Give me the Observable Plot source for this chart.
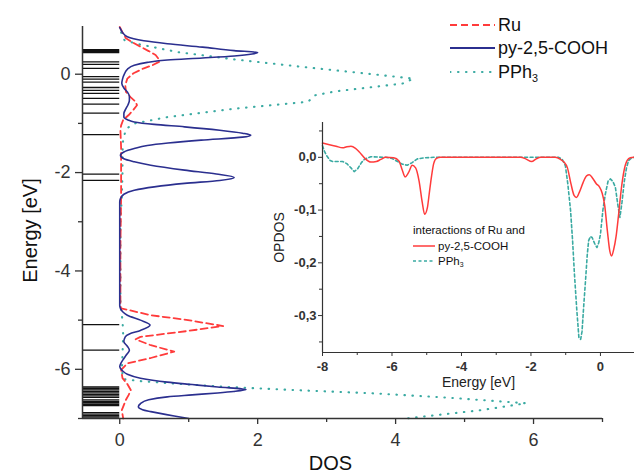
<!DOCTYPE html>
<html><head><meta charset="utf-8">
<script src="https://cdn.jsdelivr.net/npm/d3@7"></script>
<script src="https://cdn.jsdelivr.net/npm/@observablehq/plot@0.6"></script>
<style>
body{margin:0;background:#fff;}
#wrap{position:relative;width:634px;height:474px;font-family:"Liberation Sans",Arial,sans-serif;color:#111;overflow:hidden;}
#wrap > svg{position:absolute;left:0;top:0;}
.row{position:absolute;display:flex;align-items:center;white-space:nowrap;}
.row svg{display:block;}
.big{font-size:18px;line-height:22px;}
.small{font-size:11.5px;line-height:14px;}
sub{font-size:0.6em;vertical-align:-0.35em;line-height:0;}
</style></head><body><div id="wrap"></div>
<script>
// ---------- main DOS panel: [energy (eV), DOS] ----------
const pyDos = [
  [0.95,0.0],[0.92,0.01],[0.85,0.04],[0.76,0.11],[0.68,0.35],[0.62,0.69],[0.55,1.2],[0.48,1.66],[0.44,2.0],[0.41,1.92],
  [0.37,1.66],[0.33,1.2],[0.29,0.69],[0.24,0.4],[0.18,0.21],[0.10,0.11],[0.01,0.07],[-0.10,0.04],[-0.19,0.03],[-0.28,0.06],
  [-0.36,0.11],[-0.45,0.14],[-0.53,0.14],[-0.62,0.12],[-0.70,0.09],[-0.80,0.06],[-0.87,0.06],[-0.93,0.12],[-0.97,0.21],
  [-1.02,0.5],[-1.07,0.94],[-1.14,1.45],[-1.20,1.78],[-1.24,1.90],[-1.28,1.78],[-1.34,1.18],[-1.40,0.7],[-1.45,0.4],
  [-1.51,0.21],[-1.58,0.06],[-1.65,0.01],[-1.72,0.06],[-1.78,0.21],[-1.85,0.45],[-1.95,0.94],[-2.03,1.4],[-2.10,1.66],
  [-2.16,1.45],[-2.22,0.94],[-2.29,0.5],[-2.36,0.21],[-2.44,0.06],[-2.53,0.01],[-2.6,0],[-4.7,0],[-4.76,0.01],[-4.84,0.05],
  [-4.90,0.11],[-5.00,0.30],[-5.10,0.44],[-5.21,0.30],[-5.28,0.14],[-5.34,0.08],[-5.44,0.06],[-5.53,0.11],[-5.61,0.14],
  [-5.70,0.10],[-5.78,0.06],[-5.87,0.02],[-5.95,0.0],[-6.03,0.04],[-6.10,0.11],[-6.18,0.3],[-6.26,0.69],[-6.31,1.05],
  [-6.36,1.42],[-6.41,1.83],[-6.45,1.65],[-6.48,1.42],[-6.52,1.05],[-6.56,0.69],[-6.62,0.42],[-6.70,0.30],[-6.76,0.27],
  [-6.82,0.33],[-6.86,0.45],[-6.95,0.79],[-7.0,1.0]
];
const ruDos = [
  [0.96,0.0],[0.85,0.04],[0.73,0.09],[0.65,0.18],[0.56,0.30],[0.47,0.42],[0.39,0.52],[0.30,0.57],[0.25,0.57],[0.18,0.47],
  [0.12,0.35],[0.02,0.2],[-0.09,0.11],[-0.22,0.08],[-0.36,0.09],[-0.47,0.16],[-0.56,0.23],[-0.63,0.25],[-0.72,0.2],
  [-0.83,0.13],[-0.93,0.05],[-1.04,0.02],[-1.14,0.01],[-1.5,0.02],[-2.0,0.02],[-2.5,0.02],[-3.5,0.01],[-4.7,0.01],
  [-4.76,0.02],[-4.90,0.45],[-5.00,0.99],[-5.12,1.5],[-5.22,0.99],[-5.34,0.3],[-5.39,0.23],[-5.51,0.45],[-5.64,0.79],
  [-5.77,0.45],[-5.88,0.11],[-6.01,0.02],[-6.18,0.04],[-6.30,0.11],[-6.42,0.16],[-6.52,0.13],[-6.62,0.09],[-6.83,0.03],[-7.0,0.05]
];
const pph3Dos = [
  [0.85,0.02],[0.69,0.07],[0.62,0.24],[0.45,0.84],[0.30,1.67],[0.15,2.64],[0.01,3.6],[-0.09,4.26],[-0.19,4.1],[-0.35,3.12],
  [-0.43,2.83],[-0.56,2.73],[-0.70,1.67],[-0.87,0.70],[-1.0,0.22],[-1.1,0.10],[-1.3,0.05],[-1.6,0.04],[-2.0,0.04],[-2.5,0.03],
  [-3.0,0.01],[-4.7,0.01],[-5.0,0.04],[-5.3,0.05],[-5.7,0.04],[-6.0,0.03],[-6.2,0.05],[-6.24,0.3],[-6.3,0.9],[-6.36,1.6],
  [-6.42,2.5],[-6.49,3.7],[-6.58,4.8],[-6.69,5.89],[-6.83,5.24],[-7.0,4.15]
];
// energy levels (eV)
const levels = [0.50,0.48,0.46,0.44,0.25,0.20,0.12,-0.05,-0.10,-0.16,-0.27,-0.33,-0.39,-0.49,-0.61,-0.79,-1.23,-2.03,-2.16,
  -5.09,-5.61,-6.36,-6.39,-6.42,-6.45,-6.48,-6.51,-6.54,-6.57,-6.62,-6.65,-6.68,-6.71,-6.74,-6.88,-6.91,-6.94,-6.97];
const xMajor = [0,2,4,6], xMinor = [1,3,5,7];
const yMajor = [0,-2,-4,-6], yMinor = [-1,-3,-5,-7];

// ---------- inset OPDOS: [energy (eV), OPDOS] ----------
const opdosPy = [
  [-8.0,0.027],[-7.8,0.024],[-7.61,0.021],[-7.42,0.018],[-7.3,0.02],[-7.18,0.021],[-7.05,0.017],[-6.94,0.01],[-6.78,-0.002],
  [-6.61,-0.009],[-6.45,-0.008],[-6.32,-0.004],[-6.18,0],[-5.95,-0.001],[-5.8,-0.007],[-5.7,-0.025],[-5.62,-0.037],[-5.51,-0.027],
  [-5.42,-0.015],[-5.32,-0.02],[-5.22,-0.045],[-5.13,-0.085],[-5.06,-0.108],[-4.98,-0.095],[-4.93,-0.07],[-4.86,-0.035],
  [-4.8,-0.012],[-4.72,-0.002],[-4.6,0],[-2.3,0],[-2.15,-0.003],[-1.98,-0.008],[-1.85,-0.003],[-1.72,0],[-1.3,0],[-1.15,-0.004],
  [-1.05,-0.009],[-0.95,-0.02],[-0.85,-0.05],[-0.76,-0.072],[-0.69,-0.076],[-0.6,-0.065],[-0.5,-0.048],[-0.4,-0.035],
  [-0.32,-0.033],[-0.22,-0.04],[-0.12,-0.05],[-0.03,-0.056],[0.05,-0.068],[0.12,-0.09],[0.2,-0.14],[0.27,-0.178],[0.32,-0.187],
  [0.38,-0.175],[0.45,-0.15],[0.52,-0.11],[0.6,-0.06],[0.68,-0.025],[0.77,-0.006],[0.86,-0.001],[0.98,0]
];
const opdosPPh3 = [
  [-8.0,0.022],[-7.95,0.012],[-7.88,0.003],[-7.78,-0.006],[-7.71,-0.008],[-7.42,-0.008],[-7.3,-0.012],[-7.18,-0.02],[-7.09,-0.027],
  [-6.99,-0.022],[-6.88,-0.01],[-6.78,-0.003],[-6.61,0.001],[-6.18,0],[-6.0,-0.002],[-5.84,-0.008],[-5.7,-0.013],[-5.56,-0.015],
  [-5.42,-0.01],[-5.27,-0.003],[-5.08,-0.001],[-4.8,0],[-1.2,0],[-1.1,-0.004],[-1.01,-0.016],[-0.94,-0.05],[-0.86,-0.101],
  [-0.8,-0.16],[-0.75,-0.22],[-0.68,-0.29],[-0.62,-0.342],[-0.57,-0.345],[-0.53,-0.33],[-0.48,-0.28],[-0.43,-0.234],[-0.38,-0.185],
  [-0.34,-0.158],[-0.29,-0.15],[-0.24,-0.152],[-0.17,-0.163],[-0.1,-0.171],[-0.05,-0.162],[0,-0.146],[0.07,-0.1],[0.14,-0.07],
  [0.22,-0.045],[0.29,-0.041],[0.36,-0.046],[0.43,-0.057],[0.5,-0.09],[0.56,-0.114],[0.62,-0.085],[0.69,-0.044],[0.75,-0.02],
  [0.81,-0.006],[0.9,-0.001],[0.98,0]
];
const insetXMajor = [-8,-6,-4,-2,0], insetXMinor = [-7,-5,-3,-1,1];
const insetYMajor = [0,-0.1,-0.2,-0.3], insetYMinor = [0.05,-0.05,-0.15,-0.25,-0.35];

const RED = "#ff3b3b", BLUE = "#2b2f8f", TEAL = "#3aaaa2", AX = "#333";
const FONT = "Liberation Sans, Arial, sans-serif";
const xDom = [-0.54, 7], yDom = [-7, 0.97];

const main = Plot.plot({
  width: 634, height: 474,
  marginLeft: 82, marginRight: 32, marginTop: 26, marginBottom: 56,
  x: {domain: xDom},
  y: {domain: yDom},
  style: {fontFamily: FONT, background: "transparent", color: AX},
  marks: [
    Plot.ruleY(levels, {x1: xDom[0], x2: 0, stroke: "#111", strokeWidth: 1.3}),
    Plot.line(pph3Dos, {x: d => d[1], y: d => d[0], stroke: TEAL, strokeWidth: 2.1, strokeDasharray: "0.5,7.5", strokeLinecap: "round"}),
    Plot.line(ruDos, {x: d => d[1], y: d => d[0], stroke: RED, strokeWidth: 1.8, strokeDasharray: "7,4"}),
    Plot.line(pyDos, {x: d => d[1], y: d => d[0], stroke: BLUE, strokeWidth: 1.6, curve: "monotone-y"}),
    Plot.ruleY([yDom[0]], {stroke: AX, strokeWidth: 1.5}),
    Plot.ruleX([xDom[0]], {stroke: AX, strokeWidth: 1.5}),
    Plot.axisX({ticks: xMajor, tickSize: 6, tickPadding: 9, fontSize: 18, tickFormat: d => String(d), label: null, strokeWidth: 1.3}),
    Plot.axisX({ticks: xMinor, tickSize: 4, tickFormat: () => "", label: null, strokeWidth: 1.3}),
    Plot.axisY({ticks: yMajor, tickSize: 7, tickPadding: 5, fontSize: 18, tickFormat: d => String(d), label: null, strokeWidth: 1.3}),
    Plot.axisY({ticks: yMinor, tickSize: 4, tickFormat: () => "", label: null, strokeWidth: 1.3}),
    Plot.text(["Energy [eV]"], {text: d => d, frameAnchor: "left", dx: -52, dy: 8, rotate: -90, fontSize: 20, textAnchor: "middle", lineAnchor: "middle", fill: "#111"}),
    Plot.text(["DOS"], {text: d => d, frameAnchor: "bottom", dx: -12, dy: 45, fontSize: 20, textAnchor: "middle", lineAnchor: "middle", fill: "#111"})
  ]
});

const fmtC = d => d.toFixed(1).replace(".", ",");
const inset = Plot.plot({
  width: 364, height: 300,
  marginLeft: 52, marginRight: 0, marginTop: 22, marginBottom: 48,
  x: {domain: [-8, 0.98]},
  y: {domain: [-0.37, 0.066]},
  style: {fontFamily: FONT, background: "transparent", color: AX, overflow: "visible"},
  marks: [
    Plot.line(opdosPPh3, {x: d => d[0], y: d => d[1], stroke: TEAL, strokeWidth: 1.6, strokeDasharray: "3,2.5"}),
    Plot.line(opdosPy, {x: d => d[0], y: d => d[1], stroke: RED, strokeWidth: 1.5, curve: "monotone-x"}),
    Plot.ruleY([-0.37], {stroke: AX, strokeWidth: 1.2}),
    Plot.ruleX([-8], {stroke: AX, strokeWidth: 1.2}),
    Plot.axisX({ticks: insetXMajor, tickSize: 4, tickPadding: 5, fontSize: 13, fontWeight: "bold", tickFormat: d => String(d), label: null}),
    Plot.axisX({ticks: insetXMinor, tickSize: 3, tickFormat: () => "", label: null}),
    Plot.axisY({ticks: insetYMajor, tickSize: 4, tickPadding: 2, fontSize: 13, fontWeight: "bold", tickFormat: fmtC, label: null}),
    Plot.axisY({ticks: insetYMinor, tickSize: 3, tickFormat: () => "", label: null}),
    Plot.text(["OPDOS"], {text: d => d, frameAnchor: "left", dx: -43, rotate: -90, fontSize: 14, textAnchor: "middle", lineAnchor: "middle", fill: "#222"}),
    Plot.text(["Energy [eV]"], {text: d => d, frameAnchor: "bottom", dy: 30, fontSize: 14, textAnchor: "middle", lineAnchor: "middle", fill: "#222"})
  ]
});
inset.style.left = "270px";
inset.style.top = "100px";

const wrap = document.getElementById("wrap");
wrap.appendChild(main);
wrap.appendChild(inset);

function swatch(w, color, dash, sw) {
  return `<svg width="${w}" height="10"><line x1="0" x2="${w}" y1="5" y2="5" stroke="${color}" stroke-width="${sw}" ${dash ? `stroke-dasharray="${dash}"` : ""} stroke-linecap="${dash && dash.startsWith('0.5') ? 'round' : 'butt'}"/></svg>`;
}
const legendMain = [
  {label: "Ru", color: RED, dash: "7,4", sw: 1.8, top: 14},
  {label: "py-2,5-COOH", color: BLUE, dash: null, sw: 1.8, top: 37},
  {label: "PPh<sub>3</sub>", color: TEAL, dash: "0.5,7.5", sw: 2.1, top: 61}
];
legendMain.forEach(d => {
  const r = document.createElement("div");
  r.className = "row big";
  r.style.left = "450px"; r.style.top = d.top + "px";
  r.innerHTML = swatch(45, d.color, d.dash, d.sw) + `<span style="margin-left:3px">${d.label}</span>`;
  wrap.appendChild(r);
});
const t = document.createElement("div");
t.className = "row small"; t.style.left = "413px"; t.style.top = "223px";
t.textContent = "interactions of Ru and";
wrap.appendChild(t);
const legendInset = [
  {label: "py-2,5-COOH", color: RED, dash: null, sw: 1.5, top: 239},
  {label: "PPh<sub>3</sub>", color: TEAL, dash: "3,2.5", sw: 1.6, top: 254}
];
legendInset.forEach(d => {
  const r = document.createElement("div");
  r.className = "row small";
  r.style.left = "413px"; r.style.top = d.top + "px";
  r.innerHTML = swatch(22, d.color, d.dash, d.sw) + `<span style="margin-left:3px">${d.label}</span>`;
  wrap.appendChild(r);
});
</script></body></html>
